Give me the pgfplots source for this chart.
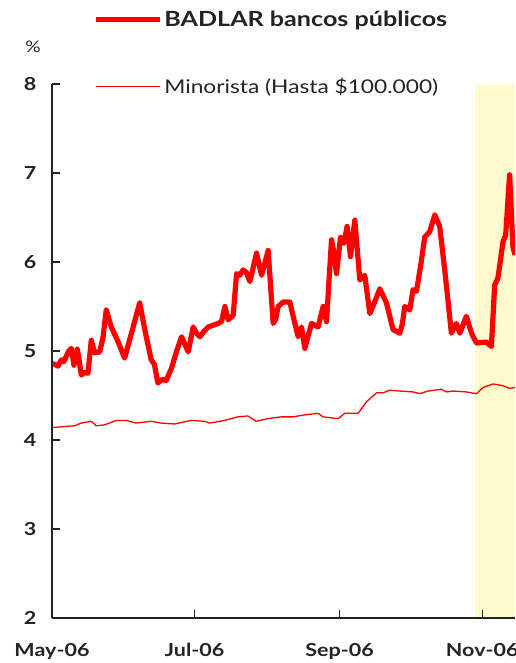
\documentclass[border=0pt]{standalone}
\usepackage{fontspec}
\setmainfont[FakeStretch=1.2]{Lato}
\usepackage{pgfplots}
\pgfplotsset{compat=1.18}
\definecolor{shade}{RGB}{255,250,205}
\definecolor{axisgray}{RGB}{35,35,35}
\definecolor{pureRed}{RGB}{255,0,0}

\begin{document}
\begin{tikzpicture}
\begin{axis}[
  name=ax,
  scale only axis, width=463bp, height=534bp,
  xmin=0, xmax=198, ymin=2, ymax=8,
  axis x line*=bottom, axis y line*=left,
  xtick={0,61,123,184}, xticklabels={May-06,Jul-06,Sep-06,Nov-06},
  ytick={2,3,4,5,6,7,8},
  tick align=inside,
  major tick length=8bp,
  axis line style={line width=1.6bp, axisgray},
  tick style={line width=1.4bp, axisgray},
  ticklabel style={font=\fontsize{18}{20}\selectfont\bfseries, text=axisgray},
  /pgf/number format/assume math mode=true,
  xticklabel style={yshift=-22bp},
  yticklabel style={xshift=-12bp},
  axis on top,
  legend style={draw=none, fill=none, at={(axis description cs:0.0886,1.141)}, anchor=north west,
    inner sep=0pt, row sep=46bp, font=\fontsize{19}{21}\selectfont, text=axisgray,
    nodes={inner sep=2bp}},
  legend cell align=left,
  legend image code/.code={\draw[#1] (0bp,0bp) -- (64bp,0bp);},
]
\addplot[fill=shade, draw=none, forget plot] coordinates {(180.8,2) (180.8,8) (198,8) (198,2)} -- cycle;

\addplot[pureRed, line width=5.2bp, line join=round] coordinates {
(0,4.86) (1.2,4.85) (2.56,4.83) (3.97,4.90) (5.0,4.88) (6.11,4.94) (7.2,5.00) (8.25,5.03) (9.40,4.84) (10.81,5.02)
(11.6,4.90) (12.52,4.73) (14.0,4.76) (15.38,4.75) (16.79,5.12) (18.25,4.98) (20.38,4.99) (21.8,5.15)
(23.2,5.46) (25.34,5.27) (28.0,5.12) (31.07,4.92) (34.5,5.25) (37.48,5.54) (40.0,5.20) (42.44,4.90)
(43.8,4.85) (45.30,4.64) (47.0,4.68) (48.85,4.67) (51.15,4.81) (53.3,5.00) (55.43,5.16) (58.25,4.99)
(60.38,5.27) (61.8,5.20) (63.25,5.16) (65.0,5.22) (66.79,5.27) (69.0,5.29) (71.07,5.31) (72.5,5.33)
(73.93,5.50) (75.34,5.35) (77.48,5.40) (78.93,5.87) (80.2,5.85) (81.75,5.91) (83.2,5.88) (84.62,5.78)
(87.48,6.10) (89.62,5.85) (92.44,6.13) (94.57,5.31) (95.6,5.35) (96.71,5.50) (98.85,5.55) (101.71,5.55)
(103.5,5.35) (105.26,5.16) (106.71,5.27) (108.12,5.03) (110.98,5.31) (113.8,5.27) (115.94,5.50)
(117.39,5.33) (119.53,6.25) (120.6,6.10) (121.67,5.87) (123.38,6.28) (124.79,6.21) (126.2,6.40)
(127.65,6.06) (129.49,6.47) (131.62,5.80) (133.76,5.85) (135.9,5.42) (138.0,5.55) (140.17,5.70)
(143.03,5.54) (145.85,5.24) (148.72,5.20) (149.8,5.30) (150.85,5.50) (152.99,5.46) (154.4,5.69)
(155.85,5.67) (157.6,5.95) (159.4,6.28) (161.5,6.34) (163.7,6.53) (165.8,6.40) (168.2,5.85)
(170.8,5.20) (172.9,5.31) (174.4,5.20) (177.2,5.39) (179.4,5.20) (181.5,5.09) (185.8,5.10)
(187.9,5.05) (189.3,5.74) (190.7,5.82) (192.9,6.23) (194.0,6.30) (195.7,6.98) (197.1,6.17) (198,6.08)
};
\addlegendentry{\fontsize{21}{23}\selectfont\bfseries BADLAR bancos públicos}

\addplot[pureRed, line width=1.3bp, line join=round] coordinates {
(0,4.14) (5,4.15) (9.7,4.16) (12.5,4.19) (16.8,4.21) (18.9,4.16) (22.5,4.17) (27.5,4.22) (31.8,4.22)
(36.0,4.19) (42.4,4.21) (46.7,4.19) (52.4,4.18) (59.5,4.22) (65.3,4.21) (67.4,4.19) (73.8,4.22)
(79.5,4.26) (83.8,4.27) (87.3,4.21) (92.3,4.24) (98.0,4.26) (103.1,4.26) (107.4,4.28) (113.8,4.30)
(115.9,4.26) (122.4,4.24) (125.2,4.30) (130.9,4.30) (134.5,4.43) (138.8,4.53) (141.6,4.53)
(144.4,4.56) (148.7,4.55) (154.4,4.54) (157.3,4.52) (160.8,4.55) (166.5,4.57) (168.7,4.54)
(171.5,4.55) (177.2,4.54) (181.5,4.52) (184.3,4.59) (188.6,4.63) (192.9,4.61) (195.7,4.58) (198,4.59)
};
\addlegendentry{Minorista (Hasta \$100.000)}
\end{axis}
\node[font=\fontsize{16}{18}\selectfont, text=axisgray] at ([xshift=-19bp,yshift=37bp]ax.north west) {\%};
\pgfresetboundingbox
\path[use as bounding box] ([xshift=-52bp,yshift=-45bp]ax.south west) rectangle ([yshift=84bp]ax.north east);
\end{tikzpicture}
\end{document}
